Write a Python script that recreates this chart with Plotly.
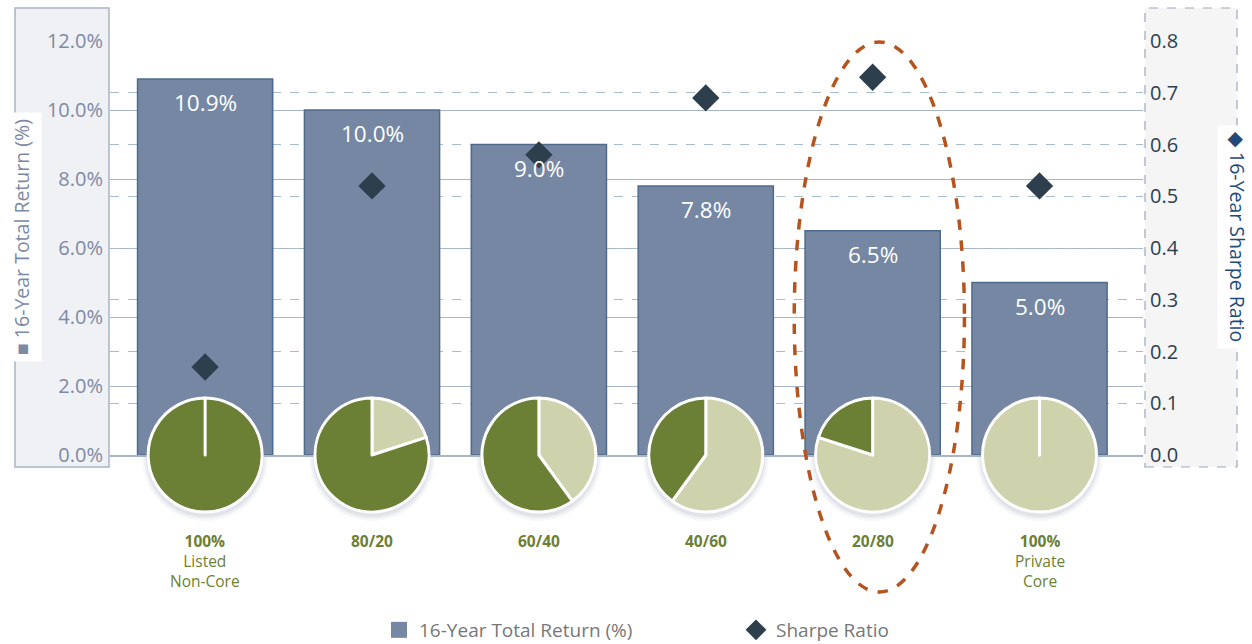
import plotly.graph_objects as go

# ---------------- data ----------------
mix_labels = ["<b>100%</b><br>Listed<br>Non-Core", "<b>80/20</b>", "<b>60/40</b>",
              "<b>40/60</b>", "<b>20/80</b>", "<b>100%</b><br>Private<br>Core"]
total_return = [10.9, 10.0, 9.0, 7.8, 6.5, 5.0]          # %
sharpe_ratio = [0.17, 0.52, 0.58, 0.69, 0.73, 0.52]
listed_share = [100, 80, 60, 40, 20, 0]                   # dark green
private_share = [0, 20, 40, 60, 80, 100]                  # light green
return_ticks = [0, 2, 4, 6, 8, 10, 12]
sharpe_ticks = [0.0, 0.1, 0.2, 0.3, 0.4, 0.5, 0.6, 0.7, 0.8]
highlight_index = 4

# ---------------- style / layout constants ----------------
W, H = 1252, 644
ML, MR, MT, MB = 110, 109, 41, 0
PW, PH = W - ML - MR, H - MT - MB
AX_BOTTOM_PX = 455
y_dom0 = (H - AX_BOTTOM_PX) / PH
XR = [-0.57, 5.62]
YR = [0, 12]
FONT = "Open Sans"
BAR_COLOR = "#7587a3"
BAR_EDGE = "#4f6b8c"
DIAMOND = "#2d3e4d"
DARK_GREEN = "#6b7f35"
LIGHT_GREEN = "#cfd3ad"
LEFT_TXT = "#7d8aa3"
PIE_R = 57


def ypaper(v):
    return y_dom0 + (v - YR[0]) / (YR[1] - YR[0]) * (1 - y_dom0)


x = list(range(len(total_return)))

fig = go.Figure()

fig.add_trace(go.Bar(
    x=x, y=total_return, marker=dict(color=BAR_COLOR, line=dict(color=BAR_EDGE, width=1.5)),
    showlegend=False, hoverinfo="skip", yaxis="y"))

fig.add_trace(go.Scatter(
    x=x, y=sharpe_ratio, yaxis="y2", mode="markers",
    marker=dict(symbol="diamond", size=21, color=DIAMOND), showlegend=False))

# legend proxies
fig.add_trace(go.Scatter(x=[None], y=[None], mode="markers", name="16-Year Total Return (%)",
                         marker=dict(symbol="square", size=16, color=BAR_COLOR)))
fig.add_trace(go.Scatter(x=[None], y=[None], mode="markers", name="Sharpe Ratio",
                         marker=dict(symbol="diamond", size=20, color=DIAMOND)))

shapes = [
    dict(type="rect", xref="paper", yref="paper", x0=(15 - ML) / PW, x1=(109 - ML) / PW,
         y0=(H - 467) / PH, y1=(H - 8) / PH, fillcolor="#eff1f5",
         line=dict(color="#a9b4c6", width=1.5), layer="below"),
    dict(type="rect", xref="paper", yref="paper", x0=(1145 - ML) / PW, x1=(1237 - ML) / PW,
         y0=(H - 467) / PH, y1=(H - 8) / PH, fillcolor="#f5f5f5",
         line=dict(color="#9aaabb", width=1.2, dash="dash"), layer="below"),
]

# pies (with faint drop shadow)
for i, (p, l) in enumerate(zip(private_share, listed_share)):
    fx = (i - XR[0]) / (XR[1] - XR[0])
    rx = PIE_R / PW
    ry = PIE_R / PH
    for k, a in ((6, 0.04), (4, 0.05), (2, 0.07)):
        shapes.append(dict(type="circle", xref="paper", yref="paper",
                           x0=fx - rx - k / PW, x1=fx + rx + k / PW,
                           y0=y_dom0 - ry - (k + 3) / PH, y1=y_dom0 + ry + (k - 3) / PH,
                           fillcolor=f"rgba(60,70,110,{a})", line=dict(width=0), layer="below"))
    vals = [max(p, 1e-3), max(l, 1e-3)]
    fig.add_trace(go.Pie(
        values=vals, labels=["Private Core", "Listed Non-Core"], sort=False,
        direction="clockwise", rotation=0, textinfo="none", hoverinfo="skip",
        marker=dict(colors=[LIGHT_GREEN, DARK_GREEN], line=dict(color="white", width=3)),
        domain=dict(x=[fx - rx, fx + rx], y=[y_dom0 - ry, y_dom0 + ry]),
        showlegend=False))

# highlight ellipse
shapes.append(dict(type="circle", xref="x", yref="paper",
                   x0=highlight_index - 0.47, x1=highlight_index + 0.55,
                   y0=ypaper(-3.97), y1=ypaper(11.97),
                   line=dict(color="#b5541f", width=3.5, dash="dash"), layer="above"))

annotations = []
# bar value labels
for i, v in enumerate(total_return):
    annotations.append(dict(x=i, y=v, xref="x", yref="y", text=f"{v:.1f}%", showarrow=False,
                            yanchor="top", yshift=-6, font=dict(family=FONT, size=22.5, color="white")))
# category labels
for i, lab in enumerate(mix_labels):
    annotations.append(dict(x=i, y=(H - 528) / PH, xref="x", yref="paper", text=lab, showarrow=False,
                            yanchor="top", align="center",
                            font=dict(family=FONT, size=15.5, color=DARK_GREEN)))
# axis titles
annotations.append(dict(x=(22 - ML) / PW, y=(H - 237) / PH, xref="paper", yref="paper",
                        xanchor="center", yanchor="middle",
                        text="■ 16-Year Total Return (%)", textangle=-90, showarrow=False,
                        bgcolor="white", borderpad=6,
                        font=dict(family=FONT, size=19.5, color=LEFT_TXT)))
annotations.append(dict(x=(1237 - ML) / PW, y=(H - 237) / PH, xref="paper", yref="paper",
                        xanchor="center", yanchor="middle",
                        text="◆ 16-Year Sharpe Ratio", textangle=90, showarrow=False,
                        bgcolor="white", borderpad=6,
                        font=dict(family=FONT, size=19.5, color="#1f4a7a")))

fig.update_layout(
    width=W, height=H, margin=dict(l=ML, r=MR, t=MT, b=MB, autoexpand=False),
    paper_bgcolor="white", plot_bgcolor="rgba(0,0,0,0)",
    font=dict(family=FONT),
    bargap=0.19,
    xaxis=dict(range=XR, showticklabels=False, showgrid=False, zeroline=False,
               showline=True, linecolor="#a9b4c6", linewidth=1.5, anchor="y", fixedrange=True),
    yaxis=dict(domain=[y_dom0, 1], range=YR, tickvals=return_ticks,
               ticktext=[f"{t:.1f}%" for t in return_ticks],
               showgrid=True, gridcolor="#a9b4c6", gridwidth=1, zeroline=False,
               tickfont=dict(family=FONT, size=20, color=LEFT_TXT), ticklabelstandoff=6),
    yaxis2=dict(domain=[y_dom0, 1], range=[0, 0.8], overlaying="y", side="right",
                tickvals=sharpe_ticks, ticktext=[f"{t:.1f}" for t in sharpe_ticks],
                showgrid=True, gridcolor="#a9bccb", griddash="dash", gridwidth=1, zeroline=False,
                tickfont=dict(family=FONT, size=20, color=DIAMOND), ticklabelstandoff=6),
    legend=dict(orientation="h", x=(379 - ML) / PW, xanchor="left", y=(H - 630) / PH,
                yanchor="middle", font=dict(family=FONT, size=19, color="#777777"),
                bgcolor="rgba(0,0,0,0)", entrywidth=312),
    annotations=annotations, shapes=shapes,
)

fig.write_html("out.html", config={"displayModeBar": False},
               post_script="document.body.style.margin='0';document.body.style.padding='0';")
